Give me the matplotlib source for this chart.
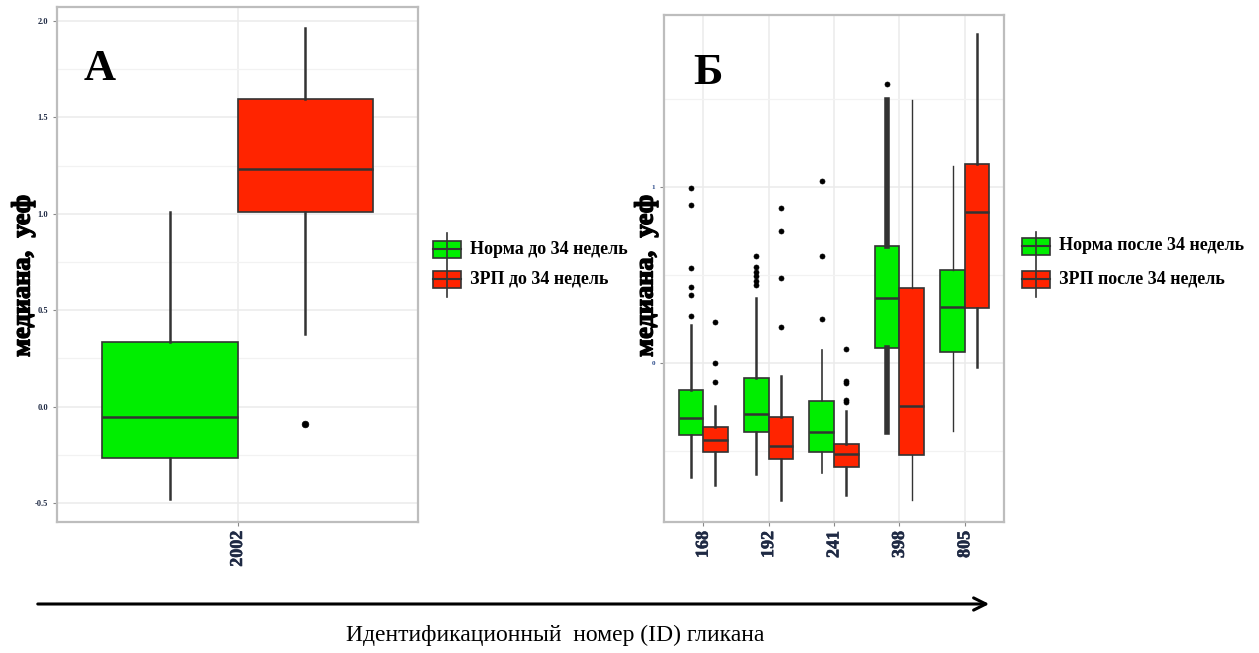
import matplotlib
matplotlib.use("Agg")
import matplotlib.pyplot as plt
import matplotlib.patheffects as pe
from matplotlib.patches import Rectangle, FancyArrowPatch
from matplotlib.lines import Line2D

plt.rcParams['font.family'] = ['Liberation Serif', 'DejaVu Serif']

# ---- data (panel A: glycan 2002, before 34 weeks) ----
a_ids = ['2002']
a_norm = dict(q1=[-0.265], med=[-0.054], q3=[0.337], lo=[-0.477], hi=[1.010], fliers=[[]])
a_zrp = dict(q1=[1.008], med=[1.231], q3=[1.594], lo=[0.379], hi=[1.965], fliers=[[-0.092]])

# ---- data (panel B: after 34 weeks) ----
b_ids = ['168', '192', '241', '398', '805']
b_norm = dict(
    q1=[-0.409, -0.394, -0.503, 0.088, 0.063],
    med=[-0.314, -0.287, -0.392, 0.371, 0.319],
    q3=[-0.153, -0.084, -0.216, 0.667, 0.530],
    lo=[-0.650, -0.633, -0.623, -0.394, -0.388],
    hi=[0.214, 0.371, 0.073, 1.493, 1.117],
    fliers=[[0.996, 0.895, 0.541, 0.434, 0.384, 0.270],
            [0.608, 0.545, 0.518, 0.493, 0.468, 0.444],
            [1.034, 0.608, 0.252],
            [1.583],
            []])
b_zrp = dict(
    q1=[-0.507, -0.545, -0.591, -0.524, 0.310],
    med=[-0.436, -0.472, -0.518, -0.245, 0.860],
    q3=[-0.363, -0.308, -0.461, 0.426, 1.128],
    lo=[-0.692, -0.776, -0.751, -0.780, -0.021],
    hi=[-0.245, -0.073, -0.273, 1.493, 1.870],
    fliers=[[0.231, 0.0, -0.109],
            [0.882, 0.748, 0.482, 0.203],
            [0.078, -0.101, -0.115, -0.210, -0.224],
            [],
            []])
b_norm_wlw = [1.8, 1.8, 1.2, 4.0, 1.0]
b_zrp_wlw = [1.8, 1.8, 1.8, 1.0, 1.8]

GREEN = '#00EE00'
RED = '#FF2400'
EDGE = '#333333'
W, H = 1259, 653
heavy = [pe.withStroke(linewidth=0.4, foreground='#1F2A44')]
heavy_k = [pe.withStroke(linewidth=1.0, foreground='black')]


def stats(d):
    return [dict(q1=d['q1'][i], med=d['med'][i], q3=d['q3'][i],
                 whislo=d['lo'][i], whishi=d['hi'][i], fliers=d['fliers'][i])
            for i in range(len(d['q1']))]


def draw(ax, d, pos, width, color, wlw, msize):
    bp = ax.bxp(stats(d), positions=pos, widths=width, patch_artist=True,
                showcaps=False, manage_ticks=False,
                boxprops=dict(facecolor=color, edgecolor=EDGE, linewidth=1.2),
                medianprops=dict(color=EDGE, linewidth=1.8),
                flierprops=dict(marker='o', markerfacecolor='black',
                                markeredgecolor='black', markeredgewidth=0.5,
                                markersize=msize))
    for i, lw in enumerate(wlw):
        bp['whiskers'][2 * i].set(color=EDGE, linewidth=lw)
        bp['whiskers'][2 * i + 1].set(color=EDGE, linewidth=lw)


def style(ax):
    ax.set_facecolor('white')
    ax.grid(True, which='major', color='#EBEBEB', linewidth=1.1)
    ax.grid(True, which='minor', axis='y', color='#F2F2F2', linewidth=0.9)
    ax.set_axisbelow(True)
    for s in ax.spines.values():
        s.set_color('#BDBDBD')
        s.set_linewidth(1.6)
    ax.tick_params(axis='both', colors='#888888', length=3, width=0.8)
    ax.tick_params(axis='y', which='minor', length=0)


fig = plt.figure(figsize=(W / 100, H / 100), dpi=100)

# ---- panel A ----
axA = fig.add_axes([57 / W, 1 - 522 / H, 361 / W, 515 / H])
style(axA)
xa = list(range(1, len(a_ids) + 1))
draw(axA, a_norm, [x - 0.225 for x in xa], 0.45, GREEN, [1.8], 4.8)
draw(axA, a_zrp, [x + 0.225 for x in xa], 0.45, RED, [1.8], 4.8)
axA.set_xlim(0.4, 1.6)
axA.set_ylim(-0.598, 2.073)
axA.set_yticks([-0.5, 0.0, 0.5, 1.0, 1.5, 2.0])
axA.set_yticklabels(['-0.5', '0.0', '0.5', '1.0', '1.5', '2.0'])
axA.set_yticks([-0.25, 0.25, 0.75, 1.25, 1.75], minor=True)
axA.set_xticks(xa)
axA.set_xticklabels(a_ids, rotation=90, fontsize=13, fontweight='bold',
                    color='#1F2A44', path_effects=heavy)
for t in axA.get_yticklabels():
    t.set(fontsize=6, fontweight='bold', color='#1F2A44')
axA.text(0.117, 0.88, 'А', transform=axA.transAxes, fontsize=32,
         fontweight='bold', ha='center', va='center')

# ---- panel B ----
axB = fig.add_axes([664 / W, 1 - 522 / H, 340 / W, 507 / H])
style(axB)
xb = list(range(1, len(b_ids) + 1))
draw(axB, b_norm, [x - 0.1875 for x in xb], 0.375, GREEN, b_norm_wlw, 3.6)
draw(axB, b_zrp, [x + 0.1875 for x in xb], 0.375, RED, b_zrp_wlw, 3.6)
axB.set_xlim(0.4, 5.6)
axB.set_ylim(-0.903, 1.977)
axB.set_yticks([0, 1])
axB.set_yticks([-0.5, 0.5, 1.5], minor=True)
axB.set_xticks(xb)
axB.set_xticklabels(b_ids, rotation=90, fontsize=13, fontweight='bold',
                    color='#1F2A44', path_effects=heavy)
for t in axB.get_yticklabels():
    t.set(fontsize=5, fontweight='bold', color='#2A4A8A')
axB.text(0.13, 0.885, 'Б', transform=axB.transAxes, fontsize=32,
         fontweight='bold', ha='center', va='center')

# ---- y labels ----
for xpix in (23, 646):
    fig.text(xpix / W, 1 - 276 / H, 'медиана,  уеф', rotation=90, fontsize=19,
             fontweight='bold', ha='center', va='center', path_effects=heavy_k)


# ---- legends ----
def legend(x0, y_top, labels, colors, ys):
    kw, kh = 28, 17
    xc = x0 + kw / 2
    fig.add_artist(Line2D([xc / W, xc / W], [1 - y_top / H, 1 - (ys[-1] + kh / 2 + 9) / H],
                          transform=fig.transFigure, color=EDGE, linewidth=1.2))
    for lab, c, y in zip(labels, colors, ys):
        fig.add_artist(Rectangle((x0 / W, 1 - (y + kh / 2) / H), kw / W, kh / H,
                                 transform=fig.transFigure, facecolor=c,
                                 edgecolor=EDGE, linewidth=1.2))
        fig.add_artist(Line2D([x0 / W, (x0 + kw) / W], [1 - y / H, 1 - y / H],
                              transform=fig.transFigure, color=EDGE, linewidth=1.5))
        fig.text((x0 + kw + 9) / W, 1 - y / H, lab, fontsize=13,
                 fontweight='bold', ha='left', va='center')


legend(433, 233, ['Норма до 34 недель', 'ЗРП до 34 недель'], [GREEN, RED], [249, 279])
legend(1022, 232, ['Норма после 34 недель', 'ЗРП после 34 недель'], [GREEN, RED], [246, 279])

# ---- bottom arrow and caption ----
fig.add_artist(FancyArrowPatch((35 / W, 1 - 604 / H), (992 / W, 1 - 604 / H),
                               transform=fig.transFigure, arrowstyle='->',
                               mutation_scale=22, linewidth=2.2, color='black'))
fig.text(555 / W, 1 - 635 / H, 'Идентификационный  номер (ID) гликана',
         fontsize=17, ha='center', va='center')

fig.savefig('out.png', dpi=100, facecolor='white')
